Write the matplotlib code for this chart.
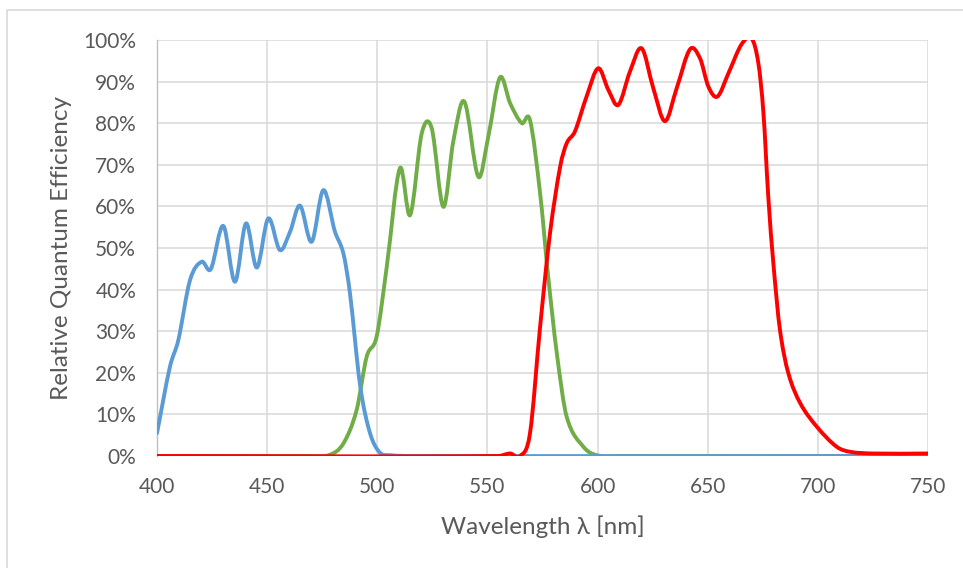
import numpy as np
import matplotlib.pyplot as plt
from matplotlib.path import Path
from matplotlib.patches import PathPatch, Rectangle
from matplotlib.ticker import FuncFormatter

# (wavelength in nm, QE in %)
blue_nm = [400, 405.9, 409.7, 415, 420.3, 424.4, 430.1, 435.4, 440.4, 445.3, 450.5,
           455.8, 460.4, 464.9, 470.2, 475.5, 480.8, 484.6, 487.6, 492.2, 496.7,
           501.2, 505.8, 515, 750]
blue_qe = [5.5, 21.5, 27.9, 42.3, 46.7, 44.9, 55.3, 41.9, 55.9, 45.3, 57.1,
           49.5, 53.9, 60.2, 51.5, 63.9, 53.9, 48.7, 39.1, 17.0, 5.5,
           0.8, 0.2, 0, 0]

green_nm = [400, 470, 478.5, 484.6, 490.6, 495.2, 499.7, 504.3, 510.3, 514.9, 520.2,
            524.7, 530, 534.5, 539.5, 545.9, 550.4, 555.7, 560.3, 565.6, 569.3,
            573.9, 577.6, 581.5, 586, 593.6, 599.6, 610, 750]
green_qe = [0, 0, 0.3, 3.0, 11.0, 23.9, 28.7, 45.5, 69.2, 57.9, 77.6,
            78.8, 59.9, 75.6, 85.2, 67.1, 76.8, 91.0, 84.8, 80.0, 80.8,
            63.2, 43.1, 24.7, 9.4, 2.2, 0.2, 0, 0]

red_nm = [400, 555, 560.3, 564.8, 569.3, 573.9, 578.4, 583, 586, 589.7, 595, 600.3,
          604.9, 609.4, 614.7, 620, 625.3, 630.6, 635.9, 642, 646.5, 650.3, 654.4,
          659.4, 665.4, 670, 673, 675.3, 677.5, 679.8, 682.8, 686.6, 692, 699.6,
          708.6, 714.7, 725.3, 750]
red_qe = [0, 0, 0.6, 0, 5.4, 31.0, 53.5, 69.5, 75.2, 78.0, 86.4, 93.2,
          88.0, 84.4, 92.4, 98.0, 88.4, 80.5, 88.4, 97.8, 95.6, 88.8, 86.4,
          92.0, 99.0, 100.3, 94.4, 82.4, 62.3, 46.3, 30.3, 19.9, 12.7, 7.0,
          2.2, 1.0, 0.6, 0.6]

x_ticks = [400, 450, 500, 550, 600, 650, 700, 750]
y_ticks = [0, 10, 20, 30, 40, 50, 60, 70, 80, 90, 100]

C_BLUE = "#5B9BD5"
C_GREEN = "#70AD47"
C_RED = "#FF0000"
C_TEXT = "#595959"
C_GRID = "#D9D9D9"

plt.rcParams["font.family"] = ["Lato", "DejaVu Sans"]


def smooth_path(xs, ys):
    # cubic bezier through the points, like a smoothed line in a spreadsheet
    x = np.asarray(xs, float)
    y = np.asarray(ys, float)
    n = len(x)
    m = np.zeros(n)
    m[0] = (y[1] - y[0]) / (x[1] - x[0])
    m[-1] = (y[-1] - y[-2]) / (x[-1] - x[-2])
    m[1:-1] = (y[2:] - y[:-2]) / (x[2:] - x[:-2])
    verts = [(x[0], y[0])]
    codes = [Path.MOVETO]
    for i in range(n - 1):
        h = x[i + 1] - x[i]
        verts += [(x[i] + h / 3, y[i] + m[i] * h / 3),
                  (x[i + 1] - h / 3, y[i + 1] - m[i + 1] * h / 3),
                  (x[i + 1], y[i + 1])]
        codes += [Path.CURVE4] * 3
    return Path(verts, codes)


fig = plt.figure(figsize=(9.63, 5.68), dpi=100)
ax = fig.add_axes([157 / 963, 1 - 456 / 568, (928 - 157) / 963, (456 - 40) / 568])

for xs, ys, col in [(green_nm, green_qe, C_GREEN),
                    (blue_nm, blue_qe, C_BLUE),
                    (red_nm, red_qe, C_RED)]:
    ax.add_patch(PathPatch(smooth_path(xs, ys), fill=False, edgecolor=col,
                           lw=2.8, capstyle="round", joinstyle="round", zorder=3))

ax.set_xlim(400, 750)
ax.set_ylim(0, 100)
ax.set_xticks(x_ticks)
ax.set_yticks(y_ticks)
ax.yaxis.set_major_formatter(FuncFormatter(lambda v, p: f"{v:.0f}%"))

ax.grid(True, color=C_GRID, lw=1.1, zorder=0)
ax.set_axisbelow(True)
for s in ["top", "right", "bottom"]:
    ax.spines[s].set_visible(False)
ax.spines["left"].set_color("#BFBFBF")
ax.spines["left"].set_linewidth(1.0)
ax.tick_params(length=0, labelsize=15, colors=C_TEXT)
ax.tick_params(axis="y", pad=15)
ax.tick_params(axis="x", pad=15)

ax.set_xlabel("Wavelength λ [nm]", fontsize=17.5, color=C_TEXT, labelpad=13)
ax.set_ylabel("Relative Quantum Efficiency", fontsize=17.5, color=C_TEXT, labelpad=8)

# chart frame, cut off at right and bottom
fig.patches.append(Rectangle((7 / 963, -0.2), 2, 1 - 10 / 568 + 0.2,
                             transform=fig.transFigure, fill=False,
                             edgecolor=C_GRID, lw=1.2))

fig.savefig("out.png", dpi=100)
